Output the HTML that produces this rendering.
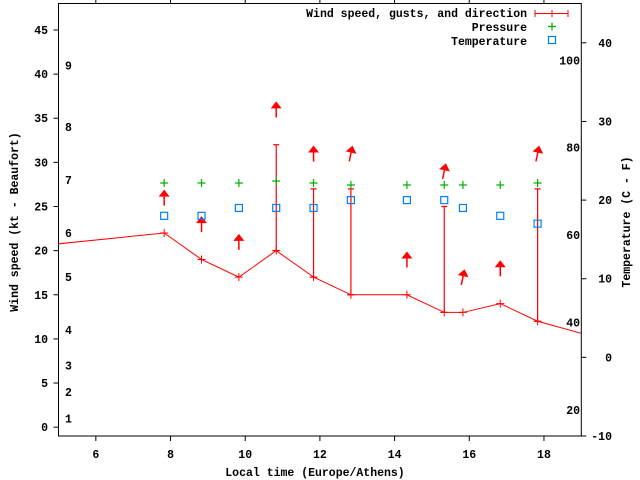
<!DOCTYPE html>
<html><head><meta charset="utf-8"><style>
html,body{margin:0;padding:0;background:#fff}
svg{display:block}
text{font-family:"Liberation Mono",monospace;font-weight:bold;font-size:11.5px;fill:#000}
</style></head><body>
<svg id="chart" width="640" height="480" viewBox="0 0 640 480" xmlns="http://www.w3.org/2000/svg">
<defs><clipPath id="clip"><rect x="58.5" y="3.5" width="522.8" height="432.5"/></clipPath></defs>
<g id="axes"></g>
<g id="plot" clip-path="url(#clip)"></g>
<g id="legend"></g>
</svg>
<script>
const times = [7.83, 8.83, 9.83, 10.83, 11.83, 12.83, 14.33, 15.33, 15.83, 16.83, 17.83];
const wind = [22, 19, 17, 20, 17, 15, 15, 13, 13, 14, 12];
const gusts = [null, null, null, 32, 27, 27, null, 25, null, null, 27];
const direction = [0, 0, 0, 0, 0, 12, 0, 12, 12, 0, 12];
const pressure = [1015, 1015, 1015, 1016, 1015, 1014, 1014, 1014, 1014, 1014, 1015];
const temperature = [18, 18, 19, 19, 19, 20, 20, 20, 19, 18, 17];
const lineTimes = [4.83, 7.83, 8.83, 9.83, 10.83, 11.83, 12.83, 14.33, 15.33, 15.83, 16.83, 17.83, 19.2];
const lineWind = [20.7, 22, 19, 17, 20, 17, 15, 15, 13, 13, 14, 12, 10.4];
const xTicks = [6, 8, 10, 12, 14, 16, 18];
const yTicks = [0, 5, 10, 15, 20, 25, 30, 35, 40, 45];
const tTicks = [-10, 0, 10, 20, 30, 40];
const fLabels = [20, 40, 60, 80, 100];
const beaufortKt = [1, 4, 7, 11, 17, 22, 28, 34, 41];
const beaufortLabels = ["1","2","3","4","5","6","7","8","9"];

const L=58.5,R=581.3,T=3.5,B=436;
const X=t=>L+(t-5)/14*(R-L);
const Y=v=>B-(v+1)/49*(B-T);
const YT=c=>B-(c+10)/55*(B-T);
const YP=p=>183-(p-1015)*2;
const NS="http://www.w3.org/2000/svg";
function mk(tag,attrs,parent){const e=document.createElementNS(NS,tag);for(const k in attrs)e.setAttribute(k,attrs[k]);parent.appendChild(e);return e;}
const axes=document.getElementById('axes'),plot=document.getElementById('plot'),leg=document.getElementById('legend');

let box=mk('rect',{x:L,y:T,width:R-L,height:B-T,fill:'none',stroke:'#000','stroke-width':1},axes);



xTicks.forEach(t=>{const x=X(t);
 mk('line',{x1:x,y1:B,x2:x,y2:B+5,stroke:'#000'},axes);
 mk('line',{x1:x,y1:T,x2:x,y2:T-4,stroke:'#000'},axes);
 const tx=mk('text',{x:x,y:458,'text-anchor':'middle'},axes);tx.textContent=t;
 
 
});
yTicks.forEach(v=>{const y=Y(v);
 mk('line',{x1:L-5,y1:y,x2:L,y2:y,stroke:'#000'},axes);
 const tx=mk('text',{x:48,y:y+4,'text-anchor':'end'},axes);tx.textContent=v;
 
 
});
tTicks.forEach(c=>{const y=YT(c);
 mk('line',{x1:R,y1:y,x2:R+5,y2:y,stroke:'#000'},axes);
 const tx=mk('text',{x:612,y:y+4,'text-anchor':'end'},axes);tx.textContent=c;
 
 
});
fLabels.forEach(f=>{const y=YT((f-32)*5/9);
 const tx=mk('text',{x:580,y:y+4,'text-anchor':'end'},axes);tx.textContent=f;
 
 
});
beaufortKt.forEach((k,i)=>{const y=Y(k);
 const tx=mk('text',{x:65,y:y+4},axes);tx.textContent=beaufortLabels[i];
 
 
});
let xl=mk('text',{x:315,y:476,'text-anchor':'middle'},axes);xl.textContent='Local time (Europe/Athens)';


let yl=mk('text',{x:0,y:0,'text-anchor':'middle',transform:'translate(18,222) rotate(-90)'},axes);yl.textContent='Wind speed (kt - Beaufort)';


let y2=mk('text',{x:0,y:0,'text-anchor':'middle',transform:'translate(630,222) rotate(-90)'},axes);y2.textContent='Temperature (C - F)';



// wind line
let pts=lineTimes.map((t,i)=>X(t)+','+Y(lineWind[i])).join(' ');
let wl=mk('polyline',{points:pts,fill:'none',stroke:'#f00','stroke-width':1},plot);



times.forEach((t,i)=>{const x=X(t),y=Y(wind[i]);
 // wind point marker
 let m=mk('path',{d:`M${x-4},${y}H${x+4}M${x},${y-4}V${y+4}`,stroke:'#f00','stroke-width':1},plot);
 
 
 let top=wind[i];
 if(gusts[i]!=null){const yg=Y(gusts[i]);top=gusts[i];
  let g=mk('path',{d:`M${x},${y}V${yg}M${x-3},${yg}H${x+3}M${x-3},${y}H${x+3}`,stroke:'#f00','stroke-width':1.2},plot);
  
  
 }
 // direction arrow
 const ya=Y(top+4);
 let a=mk('g',{transform:`translate(${x},${ya}) rotate(${direction[i]})`},plot);
 
 
 mk('line',{x1:0,y1:8,x2:0,y2:-4,stroke:'#f00','stroke-width':1.5},a);
 mk('polygon',{points:'0,-8 -5.5,-1 5.5,-1',fill:'#f00'},a);
 // pressure
 const yp=YP(pressure[i]);
 let p=mk('path',{d:`M${x-4},${yp}H${x+4}M${x},${yp-4}V${yp+4}`,stroke:'#00b000','stroke-width':1.2},plot);
 
 
 // temperature
 const yt=YT(temperature[i]);
 let s=mk('rect',{x:x-3.5,y:yt-3.5,width:7,height:7,fill:'none',stroke:'#0080ff','stroke-width':1.2},plot);
 
 
});

// legend
[['Wind speed, gusts, and direction',13],['Pressure',27],['Temperature',41]].forEach(([s,y],i)=>{
 const tx=mk('text',{x:527,y:y+4,'text-anchor':'end'},leg);tx.textContent=s;
 
 
});
let ls=mk('path',{d:'M535,13.5H568M535,10V17M568,10V17M552,10V17',stroke:'#f00','stroke-width':1},leg);


let lp=mk('path',{d:'M548,26.5H556M552,22.5V30.5',stroke:'#00b000','stroke-width':1.2},leg);


let lt=mk('rect',{x:548.5,y:36.5,width:7,height:7,fill:'none',stroke:'#0080ff','stroke-width':1.2},leg);


</script>
</body></html>
